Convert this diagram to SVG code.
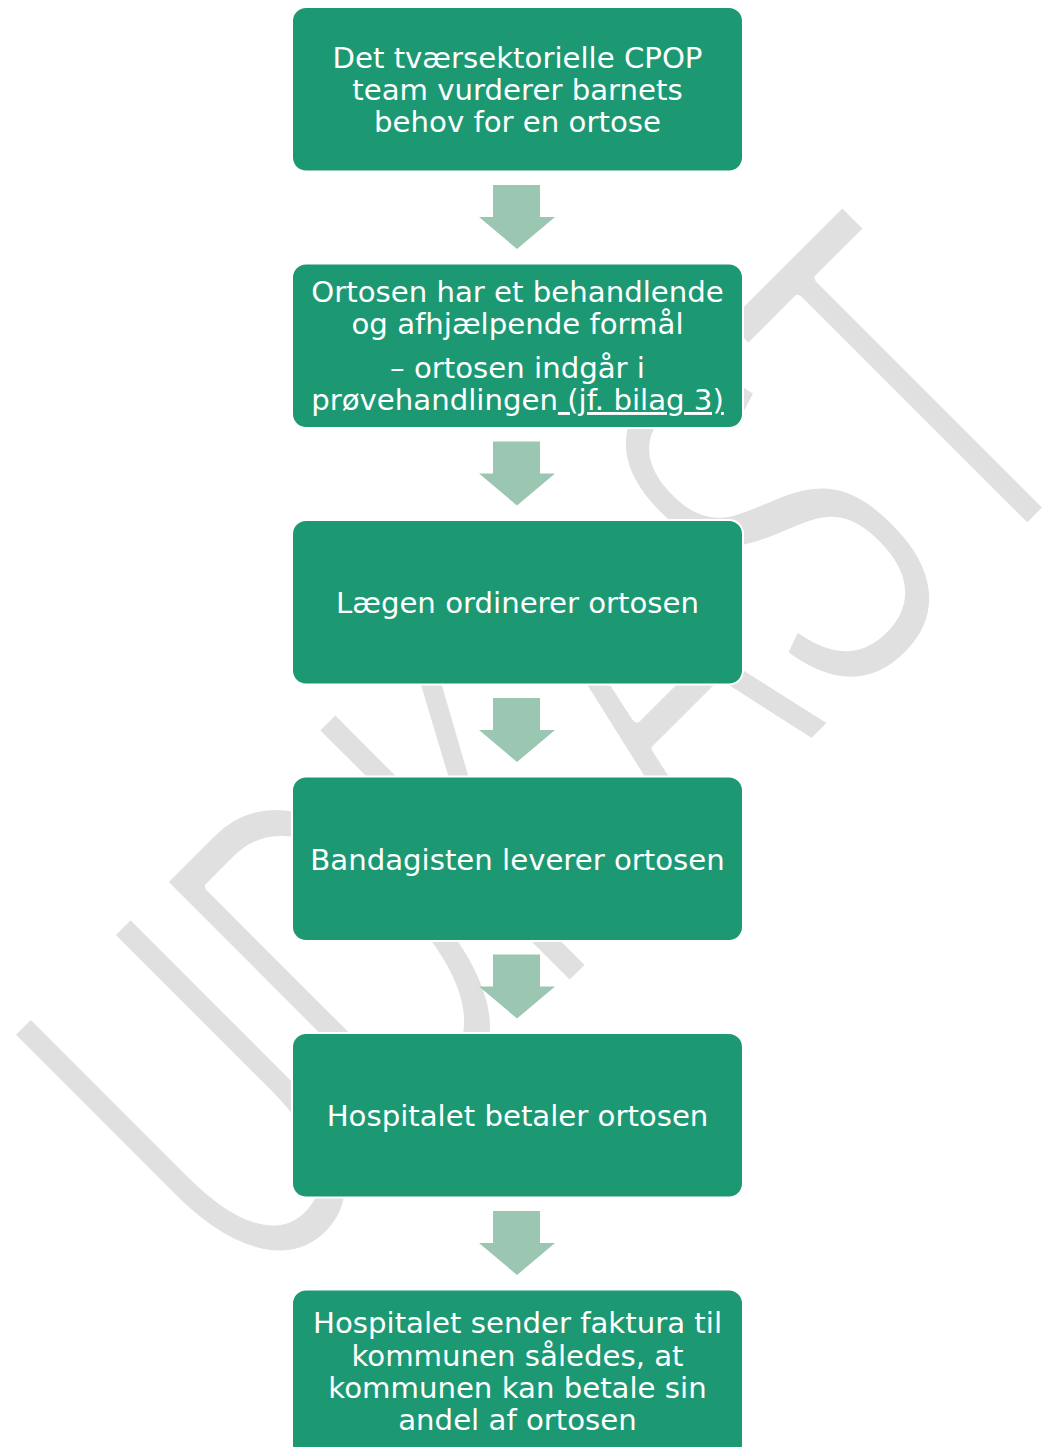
<svg xmlns="http://www.w3.org/2000/svg" width="1048" height="1447" viewBox="0 0 1048 1447">
<style>
.box{fill:#1c9973;stroke:#ffffff;stroke-width:2}
.arr{fill:#9bc6b1}
.t{font-family:"DejaVu Sans","Verdana",sans-serif;font-size:29.2px;fill:#ffffff;text-anchor:middle}
.wm{font-family:"Liberation Sans",Arial,sans-serif;font-size:530px;fill:#e0e0e0;stroke:#ffffff;stroke-width:12px;stroke-linejoin:round}
</style>
<rect x="0" y="0" width="1048" height="1447" fill="#ffffff"/>
<g id="watermark">
<text class="wm" transform="translate(251,1307) rotate(-45)" x="0" y="0" textLength="1205" lengthAdjust="spacingAndGlyphs">UDKAST</text>
</g>
<g id="connectors">
<polygon class="arr" points="493,185 540,185 540,217 555,217 517,249 479,217 493,217"/>
<polygon class="arr" points="493,441.5 540,441.5 540,473.5 555,473.5 517,505.5 479,473.5 493,473.5"/>
<polygon class="arr" points="493,698 540,698 540,730 555,730 517,762 479,730 493,730"/>
<polygon class="arr" points="493,954.5 540,954.5 540,986.5 555,986.5 517,1018.5 479,986.5 493,986.5"/>
<polygon class="arr" points="493,1211 540,1211 540,1243 555,1243 517,1275 479,1243 493,1243"/>
</g>
<g id="node1">
<rect class="box" x="292" y="7" width="451" height="164.5" rx="14"/>
<text class="t" x="517.5" y="68.3">Det tværsektorielle CPOP</text>
<text class="t" x="517.5" y="100">team vurderer barnets</text>
<text class="t" x="517.5" y="131.5">behov for en ortose</text>
</g>
<g id="node2">
<rect class="box" x="292" y="263.5" width="451" height="164.5" rx="14"/>
<text class="t" x="517.5" y="301.7">Ortosen har et behandlende</text>
<text class="t" x="517.5" y="334.3">og afhjælpende formål</text>
<text class="t" x="517.5" y="377.7">– ortosen indgår i</text>
<text class="t" x="517.5" y="410">prøvehandlingen<tspan text-decoration="underline"> (jf. bilag 3)</tspan></text>
</g>
<g id="node3">
<rect class="box" x="292" y="520" width="451" height="164.5" rx="14"/>
<text class="t" x="517.5" y="613">Lægen ordinerer ortosen</text>
</g>
<g id="node4">
<rect class="box" x="292" y="776.5" width="451" height="164.5" rx="14"/>
<text class="t" x="517.5" y="869.5">Bandagisten leverer ortosen</text>
</g>
<g id="node5">
<rect class="box" x="292" y="1033" width="451" height="164.5" rx="14"/>
<text class="t" x="517.5" y="1126">Hospitalet betaler ortosen</text>
</g>
<g id="node6">
<rect class="box" x="292" y="1289.5" width="451" height="170" rx="14"/>
<text class="t" x="517.5" y="1333.3">Hospitalet sender faktura til</text>
<text class="t" x="517.5" y="1365.7">kommunen således, at</text>
<text class="t" x="517.5" y="1397.5">kommunen kan betale sin</text>
<text class="t" x="517.5" y="1430">andel af ortosen</text>
</g>
</svg>
